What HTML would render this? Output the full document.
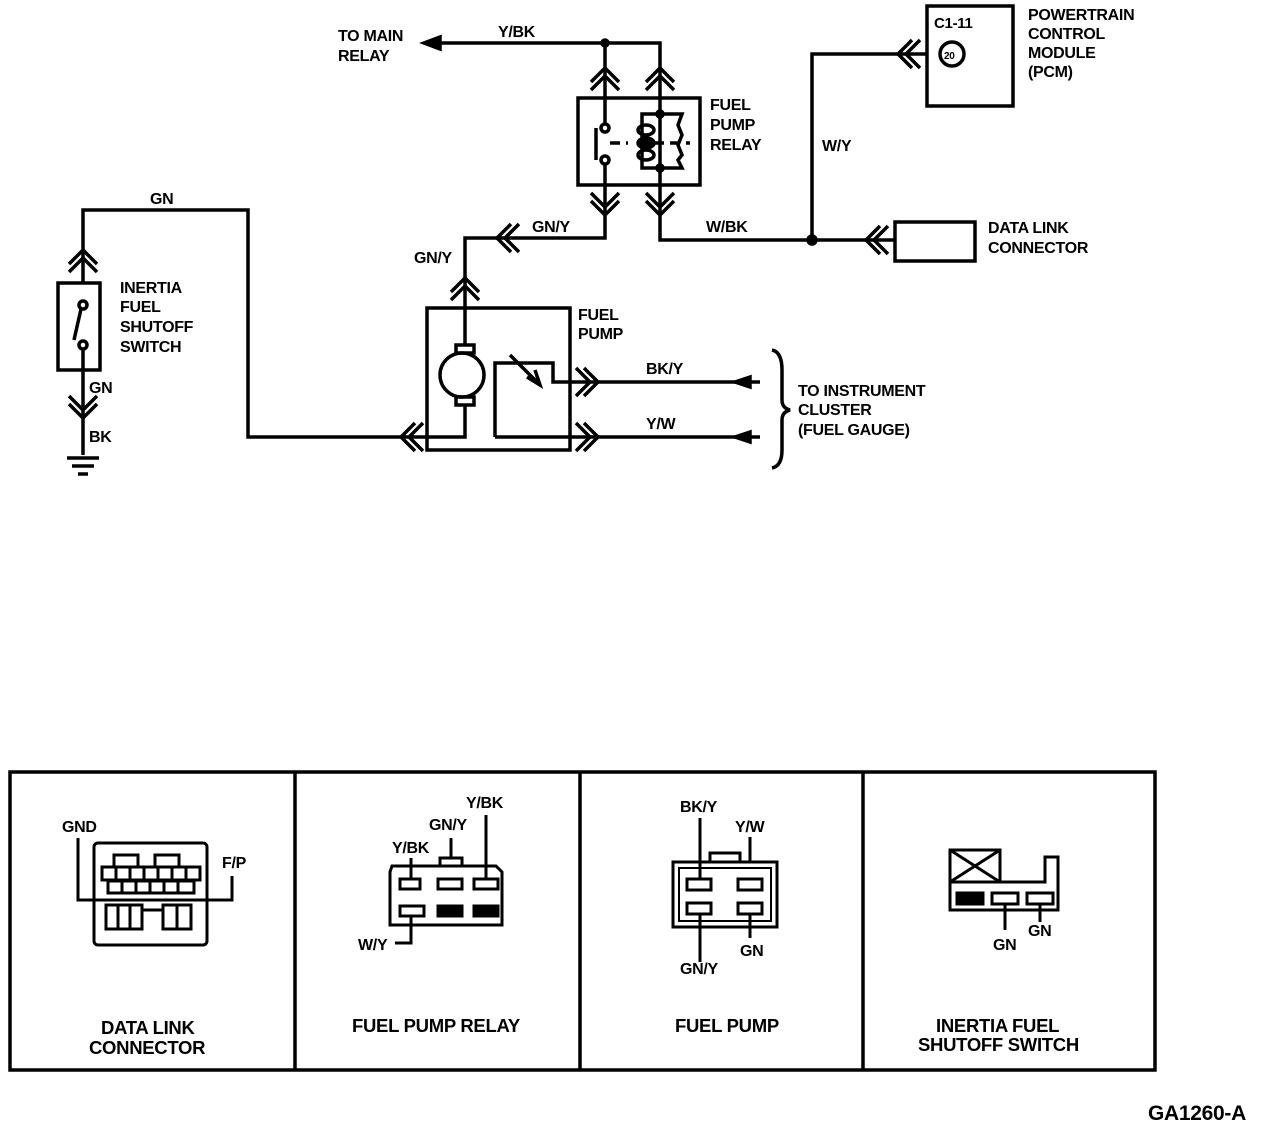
<!DOCTYPE html>
<html><head><meta charset="utf-8"><style>
html,body{margin:0;padding:0;background:#fff;}
svg{display:block;}
text{font-family:"Liberation Sans",sans-serif;font-weight:bold;font-size:16px;letter-spacing:-0.3px;fill:#000;}
</style></head><body>
<svg width="1264" height="1128" viewBox="0 0 1264 1128" xmlns="http://www.w3.org/2000/svg">
<g fill="none" stroke="#000" stroke-width="3.5" stroke-linejoin="miter">
<!-- top wire -->
<polyline points="424,43 660,43 660,98"/>
<line x1="605" y1="43" x2="605" y2="98"/>
<polygon points="424,43 440,37 440,49" fill="#000"/>
<circle cx="605" cy="43" r="3" fill="#000"/>
<!-- relay -->
<rect x="578" y="98" width="122" height="87"/>
<polyline points="605,98 605,125"/>
<circle cx="605" cy="128" r="4" fill="#fff"/>
<circle cx="605" cy="160" r="4" fill="#fff"/>
<line x1="605" y1="164" x2="605" y2="215"/>
<line x1="596" y1="128" x2="596" y2="160"/>
<line x1="610" y1="143" x2="628" y2="143" stroke-dasharray="10,6"/>
<line x1="660" y1="98" x2="660" y2="215"/>
<polyline points="660,114 642,114 642,168 660,168"/>
<polyline points="660,114 682,114 678,125 682,135 678,145 682,155 678,160 682,168 660,168"/>
<ellipse cx="646" cy="130" rx="8" ry="5"/>
<ellipse cx="646" cy="143" rx="8" ry="5" fill="#000"/>
<ellipse cx="646" cy="155" rx="8" ry="5"/>
<line x1="654" y1="143" x2="690" y2="143" stroke-dasharray="10,6"/>
<circle cx="660" cy="114" r="3" fill="#000"/>
<circle cx="660" cy="168" r="3" fill="#000"/>
<!-- chevrons relay -->
<polyline points="591,82 605,68 619,82"/><polyline points="591,90 605,76 619,90"/>
<polyline points="646,82 660,68 674,82"/><polyline points="646,90 660,76 674,90"/>
<polyline points="591,193 605,207 619,193"/><polyline points="591,201 605,215 619,201"/>
<polyline points="646,193 660,207 674,193"/><polyline points="646,201 660,215 674,201"/>
<!-- GN/Y -->
<polyline points="605,215 605,238 465,238 465,308"/>
<polyline points="511,224 497,238 511,252"/><polyline points="519,224 505,238 519,252"/>
<polyline points="451,292 465,278 479,292"/><polyline points="451,300 465,286 479,300"/>
<!-- W/BK -->
<polyline points="660,215 660,240 895,240"/>
<circle cx="812" cy="240" r="4" fill="#000"/>
<polyline points="880,226 866,240 880,254"/><polyline points="888,226 874,240 888,254"/>
<rect x="895" y="222" width="80" height="39"/>
<polyline points="812,240 812,54 927,54"/>
<polyline points="912,40 898,54 912,68"/><polyline points="920,40 906,54 920,68"/>
<rect x="927" y="6" width="86" height="100"/>
<circle cx="952" cy="54" r="12"/>
<!-- inertia -->
<polyline points="83,283 83,210 248,210 248,437 427,437"/>
<polyline points="69,264 83,250 97,264"/><polyline points="69,272 83,258 97,272"/>
<rect x="58" y="283" width="42" height="87"/>
<circle cx="83" cy="305" r="4" fill="#fff"/>
<circle cx="83" cy="345" r="4" fill="#fff"/>
<line x1="81" y1="309" x2="74" y2="340"/>
<line x1="83" y1="349" x2="83" y2="455"/>
<polyline points="69,396 83,410 97,396"/><polyline points="69,404 83,418 97,404"/>
<line x1="67" y1="458" x2="99" y2="458"/>
<line x1="72" y1="466" x2="94" y2="466"/>
<line x1="78" y1="474" x2="88" y2="474"/>
<!-- pump -->
<rect x="427" y="308" width="143" height="142"/>
<polyline points="415,423 401,437 415,451"/><polyline points="423,423 409,437 423,451"/>
<polyline points="465,308 465,345"/>
<rect x="456" y="345" width="18" height="8"/>
<circle cx="462" cy="375" r="22"/>
<rect x="456" y="397" width="18" height="8"/>
<polyline points="465,405 465,437 427,437"/>
<polyline points="495,437 495,363 553,363 553,382 760,382"/>
<line x1="510" y1="355" x2="540" y2="385"/>
<polyline points="535,370 540,385 527,377"/>
<line x1="495" y1="437" x2="760" y2="437"/>
<polyline points="584,368 598,382 584,396"/><polyline points="576,368 590,382 576,396"/>
<polyline points="584,423 598,437 584,451"/><polyline points="576,423 590,437 576,451"/>
<polygon points="735,382 750,377 750,387" fill="#000"/>
<polygon points="735,437 750,432 750,442" fill="#000"/>
<path d="M772,350 Q782,352 782,370 L782,400 Q782,408 790,410 Q782,412 782,420 L782,450 Q782,466 772,468"/>
<!-- bottom panel -->
<rect x="10" y="772" width="1145" height="298"/>
<line x1="295" y1="772" x2="295" y2="1070"/>
<line x1="580" y1="772" x2="580" y2="1070"/>
<line x1="863" y1="772" x2="863" y2="1070"/>
</g>
<g fill="none" stroke="#000" stroke-width="3">
<!-- DLC -->
<rect x="94" y="843" width="113" height="102" rx="4"/>
<rect x="114" y="855" width="24" height="12"/><rect x="155" y="855" width="24" height="12"/>
<rect x="102" y="867" width="98" height="13"/>
<path d="M116,867v13M130,867v13M144,867v13M158,867v13M172,867v13M186,867v13"/>
<rect x="108" y="881" width="86" height="12"/>
<path d="M122,881v12M136,881v12M150,881v12M164,881v12M178,881v12"/>
<rect x="106" y="905" width="36" height="24"/><rect x="163" y="905" width="28" height="24"/>
<path d="M118,905v24M130,905v24M142,910h21M177,905v24"/>
<polyline points="78,838 78,900 232,900 232,876"/>
<!-- relay connector -->
<path d="M390,872 L392,866 L496,866 L502,872 L502,925 L390,925 Z"/>
<rect x="440" y="858" width="22" height="8"/>
<rect x="400" y="879" width="20" height="10"/><rect x="438" y="879" width="24" height="10"/><rect x="474" y="879" width="24" height="10"/>
<rect x="400" y="906" width="24" height="10"/>
<rect x="438" y="906" width="24" height="10" fill="#000"/><rect x="474" y="906" width="24" height="10" fill="#000"/>
<line x1="411" y1="858" x2="411" y2="879"/>
<line x1="451" y1="838" x2="451" y2="858"/>
<line x1="486" y1="815" x2="486" y2="879"/>
<polyline points="411,916 411,943 395,943"/>
<!-- fuel pump connector -->
<rect x="673" y="862" width="104" height="65"/>
<rect x="679" y="868" width="92" height="53" stroke-width="2"/>
<rect x="710" y="853" width="30" height="9"/>
<rect x="687" y="879" width="24" height="11"/><rect x="738" y="879" width="24" height="11"/>
<rect x="687" y="903" width="24" height="11"/><rect x="738" y="903" width="24" height="11"/>
<line x1="700" y1="818" x2="700" y2="879"/>
<line x1="750" y1="837" x2="750" y2="862"/>
<line x1="700" y1="914" x2="700" y2="962"/>
<line x1="750" y1="914" x2="750" y2="938"/>
<!-- inertia connector -->
<rect x="950" y="850" width="50" height="32"/>
<path d="M950,850L1000,882M950,882L1000,850"/>
<polyline points="950,882 950,910 1058,910 1058,857 1045,857 1045,882 1000,882"/>
<rect x="957" y="893" width="26" height="11" fill="#000"/>
<rect x="992" y="893" width="26" height="11"/><rect x="1027" y="893" width="26" height="11"/>
<line x1="1005" y1="904" x2="1005" y2="930"/>
<line x1="1040" y1="904" x2="1040" y2="922"/>
</g>
<text x="338" y="41">TO MAIN</text><text x="338" y="61">RELAY</text>
<text x="498" y="37">Y/BK</text>
<text x="710" y="110">FUEL</text><text x="710" y="130">PUMP</text><text x="710" y="150">RELAY</text>
<text x="1028" y="20">POWERTRAIN</text><text x="1028" y="39">CONTROL</text><text x="1028" y="58">MODULE</text><text x="1028" y="77">(PCM)</text>
<text x="934" y="28" style="font-size:15px">C1-11</text>
<text x="944" y="59" style="font-size:10px">20</text>
<text x="822" y="151">W/Y</text>
<text x="150" y="204">GN</text>
<text x="532" y="232">GN/Y</text>
<text x="706" y="232">W/BK</text>
<text x="988" y="233">DATA LINK</text><text x="988" y="253">CONNECTOR</text>
<text x="414" y="263">GN/Y</text>
<text x="120" y="293">INERTIA</text><text x="120" y="312">FUEL</text><text x="120" y="332">SHUTOFF</text><text x="120" y="352">SWITCH</text>
<text x="578" y="320">FUEL</text><text x="578" y="339">PUMP</text>
<text x="89" y="393">GN</text>
<text x="89" y="442">BK</text>
<text x="646" y="374">BK/Y</text>
<text x="646" y="429">Y/W</text>
<text x="798" y="396">TO INSTRUMENT</text><text x="798" y="415">CLUSTER</text><text x="798" y="435">(FUEL GAUGE)</text>
<text x="62" y="832">GND</text>
<text x="222" y="868">F/P</text>
<text x="101" y="1034" style="font-size:18.5px">DATA LINK</text>
<text x="89" y="1054" style="font-size:18.5px">CONNECTOR</text>
<text x="466" y="808">Y/BK</text>
<text x="429" y="830">GN/Y</text>
<text x="392" y="853">Y/BK</text>
<text x="358" y="950">W/Y</text>
<text x="352" y="1032" style="font-size:18.5px">FUEL PUMP RELAY</text>
<text x="680" y="812">BK/Y</text>
<text x="735" y="832">Y/W</text>
<text x="680" y="974">GN/Y</text>
<text x="740" y="956">GN</text>
<text x="675" y="1032" style="font-size:18.5px">FUEL PUMP</text>
<text x="993" y="950">GN</text>
<text x="1028" y="936">GN</text>
<text x="936" y="1032" style="font-size:18.5px">INERTIA FUEL</text>
<text x="918" y="1051" style="font-size:18.5px">SHUTOFF SWITCH</text>
<text x="1148" y="1120" style="font-size:21px">GA1260-A</text>
</svg>
</body></html>
